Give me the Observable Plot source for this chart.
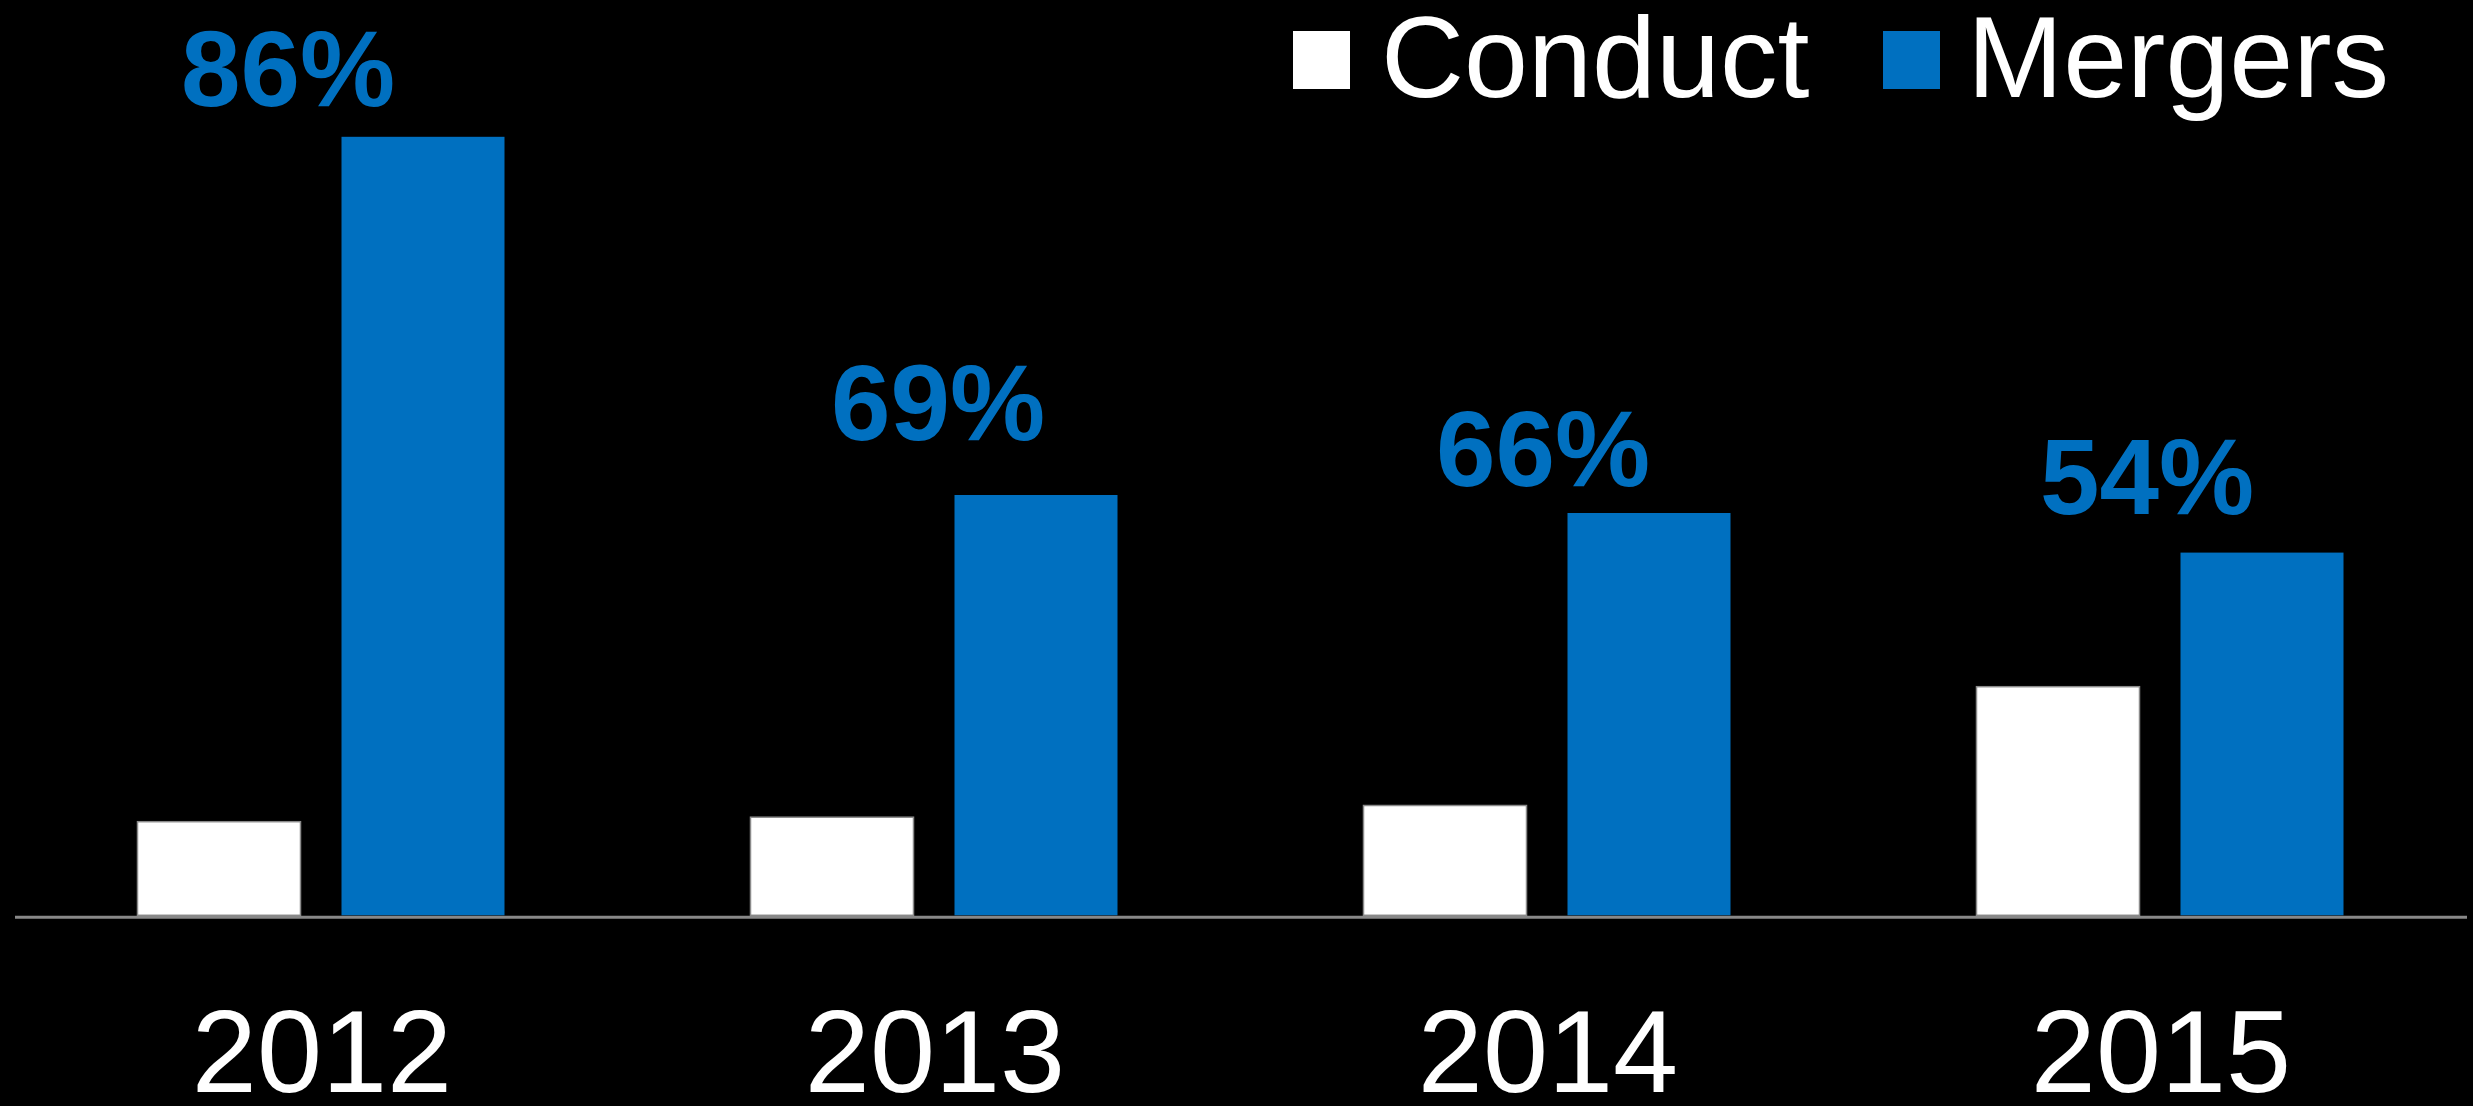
<!DOCTYPE html>
<html><head><meta charset="utf-8">
<script src="https://cdn.jsdelivr.net/npm/d3@7"></script>
<script src="https://cdn.jsdelivr.net/npm/@observablehq/plot@0.6"></script>
<style>
html,body{margin:0;padding:0;background:#000;}
#wrap{position:relative;width:2473px;height:1106px;overflow:hidden;background:#000;}
#legend{position:absolute;left:1293px;top:0;display:flex;align-items:flex-start;font-family:"Liberation Sans",Arial,sans-serif;font-size:115px;line-height:115px;color:#fff;white-space:nowrap;}
#legend .sw{width:57px;height:58px;margin-top:31px;flex:none;}
</style></head><body><div id="wrap"></div>
<script>
// ---- data ----
const years = ["2012", "2013", "2014", "2015"];
const series = ["Conduct", "Mergers"];
const conduct = [10.4, 10.9, 12.2, 25.4];
const mergers = [86.5, 46.7, 44.7, 40.3];
const mergerShare = ["86%", "69%", "66%", "54%"];
const seriesColors = ["#ffffff", "#0070c0"];

// ---- table built from the arrays ----
const rows = [];
years.forEach((y, i) => {
  rows.push({year: y, series: "Conduct", value: conduct[i]});
  rows.push({year: y, series: "Mergers", value: mergers[i]});
});
const labelRows = years.map((y, i) => ({year: y, value: mergers[i], label: mergerShare[i]}));
const labelNudge = [[-34, -31], [3, -56], [-5, -28], [-14, -39]];

const font = "'Liberation Sans', Arial, sans-serif";

const plot = Plot.plot({
  width: 2473,
  height: 1106,
  marginLeft: 13.5,
  marginRight: 5.5,
  marginTop: 0,
  marginBottom: 190.7,
  style: {background: "#000", color: "#fff", fontFamily: font},
  fx: {domain: years, padding: 0},
  x: {domain: series, paddingInner: 0.2, paddingOuter: 0.6, axis: null},
  y: {domain: [0, 101.7], axis: null},
  color: {domain: series, range: seriesColors},
  marks: [
    Plot.barY(rows.filter(d => d.series === "Conduct"), {fx: "year", x: "series", y: "value", fill: "series", stroke: "#8a8a8a", strokeWidth: 1.5}),
    Plot.barY(rows.filter(d => d.series === "Mergers"), {fx: "year", x: "series", y: "value", fill: "series"}),
    Plot.ruleY([0], {stroke: "#888", strokeWidth: 3, dy: 1.5}),
    ...labelRows.map((d, i) => Plot.text([d], {
      fx: "year", y: "value", text: "label",
      fill: seriesColors[1], fontSize: 107, fontWeight: "bold",
      lineAnchor: "bottom", textAnchor: "middle",
      dx: labelNudge[i][0], dy: labelNudge[i][1]
    })),
    Plot.axisFx({anchor: "bottom", tickSize: 0, tickPadding: 93.5, fontSize: 117, label: null, fill: "#fff"})
  ]
});

const wrap = document.getElementById("wrap");
wrap.appendChild(plot);

// legend (HTML, overlaid at the top right)
const colorScale = plot.scale("color");
const legend = document.createElement("div");
legend.id = "legend";
const gaps = [31, 74, 27];
series.forEach((s, i) => {
  const sw = document.createElement("div");
  sw.className = "sw";
  sw.style.background = colorScale.apply(s);
  if (i > 0) sw.style.marginLeft = gaps[i * 2 - 1] + "px";
  legend.appendChild(sw);
  const t = document.createElement("span");
  t.textContent = s;
  t.style.marginLeft = (i === 0 ? gaps[0] : gaps[2]) + "px";
  legend.appendChild(t);
});
wrap.appendChild(legend);
</script>
</body></html>
